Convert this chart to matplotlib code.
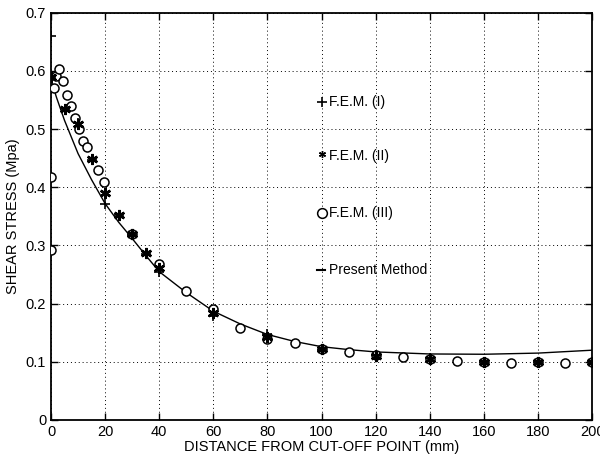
import matplotlib
matplotlib.use("Agg")
import matplotlib.pyplot as plt

plt.rcParams['font.family'] = ['Liberation Sans', 'DejaVu Sans']

# FEM (I) - plus markers
fem1_x = [0, 0, 5, 10, 15, 20, 25, 30, 35, 40, 60, 80, 100, 120, 140, 160, 180, 200]
fem1_y = [0.66, 0.59, 0.535, 0.51, 0.447, 0.372, 0.352, 0.318, 0.285, 0.254, 0.178, 0.147, 0.120, 0.111, 0.106, 0.100, 0.100, 0.100]

# FEM (II) - asterisk markers
fem2_x = [0, 5, 10, 15, 20, 25, 30, 35, 40, 60, 80, 100, 120, 140, 160, 180, 200]
fem2_y = [0.590, 0.535, 0.509, 0.449, 0.391, 0.353, 0.320, 0.287, 0.261, 0.184, 0.143, 0.122, 0.110, 0.105, 0.100, 0.100, 0.100]

# FEM (III) - circle markers
fem3_x = [0, 0, 1, 2, 3, 4.5, 6, 7.3, 8.8, 10.2, 11.8, 13.3, 17.3, 19.7, 30, 40, 50, 60, 70, 80, 90, 100,
          110, 120, 130, 140, 150, 160, 170, 180, 190, 200]
fem3_y = [0.417, 0.293, 0.570, 0.592, 0.603, 0.582, 0.558, 0.539, 0.520, 0.500, 0.480, 0.470, 0.430, 0.410,
          0.320, 0.268, 0.221, 0.190, 0.158, 0.140, 0.132, 0.122, 0.117, 0.112, 0.108, 0.105, 0.102,
          0.100, 0.098, 0.100, 0.098, 0.100]

# Present method - line
pm_x = [0, 2, 5, 10, 15, 20, 25, 30, 35, 40, 50, 60, 70, 80, 90, 100, 110, 120, 140, 160, 180, 200]
pm_y = [0.585, 0.555, 0.515, 0.458, 0.413, 0.372, 0.340, 0.312, 0.283, 0.255, 0.219, 0.187, 0.165, 0.147,
        0.135, 0.126, 0.121, 0.117, 0.1135, 0.113, 0.115, 0.120]

x_ticks = [0, 20, 40, 60, 80, 100, 120, 140, 160, 180, 200]
y_ticks = [0, 0.1, 0.2, 0.3, 0.4, 0.5, 0.6, 0.7]
y_ticklabels = ['0', '0.1', '0.2', '0.3', '0.4', '0.5', '0.6', '0.7']

legend_labels = ['F.E.M. (I)', 'F.E.M. (II)', 'F.E.M. (III)', 'Present Method']
legend_y = [0.547, 0.453, 0.356, 0.258]

fig = plt.figure(figsize=(6.0, 4.58), dpi=100)
ax = fig.add_axes([0.085, 0.083, 0.902, 0.889])

ast = (6, 2, 0)
ax.plot(pm_x, pm_y, color='black', lw=1.0, zorder=3)
ax.plot(fem3_x, fem3_y, linestyle='none', marker='o', ms=6.5, mew=1.1, mfc='white', mec='black', zorder=4)
ax.plot(fem1_x, fem1_y, linestyle='none', marker='+', ms=7, mew=1.2, color='black', zorder=5)
ax.plot(fem2_x, fem2_y, linestyle='none', marker=ast, ms=8, mew=1.8, color='black', zorder=5)

# In-plot legend entries
lx = 100
ax.plot([lx], [legend_y[0]], marker='+', ms=7, mew=1.2, color='black', linestyle='none')
ax.plot([lx], [legend_y[1] + 0.004], marker=ast, ms=5, mew=1.0, color='black', linestyle='none')
ax.plot([lx], [legend_y[2]], marker='o', ms=7, mew=1.1, mfc='white', mec='black', linestyle='none')
ax.plot([lx - 1.8, lx + 1.2], [legend_y[3], legend_y[3]], color='black', lw=1.5)
for lab, yy in zip(legend_labels, legend_y):
    ax.text(lx + 2.6, yy, lab, fontsize=10, va='center', ha='left')

ax.set_xlim(0, 200)
ax.set_ylim(0, 0.7)
ax.set_xticks(x_ticks)
ax.set_yticks(y_ticks)
ax.set_yticklabels(y_ticklabels)
ax.tick_params(direction='in', top=True, right=True, labelsize=10.5, length=5, width=1)
ax.grid(True, linestyle=(0, (1, 3)), color='black', lw=0.7)
for s in ax.spines.values():
    s.set_linewidth(1.3)

ax.set_xlabel('DISTANCE FROM CUT-OFF POINT (mm)', fontsize=10.5, labelpad=1)
ax.set_ylabel('SHEAR STRESS (Mpa)', fontsize=10.5, labelpad=4)

fig.savefig('out.png', dpi=100)
